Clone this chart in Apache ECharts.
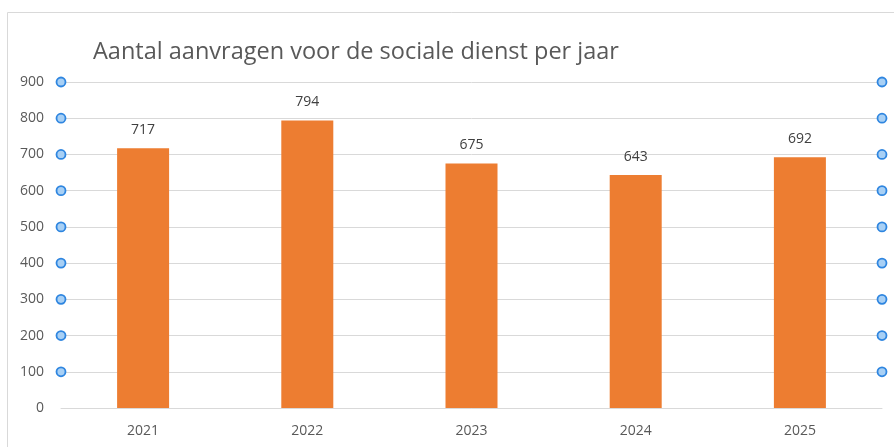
<!DOCTYPE html>
<html>
<head>
<meta charset="utf-8">
<script src="https://cdn.jsdelivr.net/npm/echarts@6/dist/echarts.min.js"></script>
<style>
  html, body { margin: 0; padding: 0; background: #fff; }
  #graph { width: 894px; height: 447px; }
</style>
</head>
<body>
<div id="graph"></div>
<script>
  // categorieën en waarden
  var years = ["2021", "2022", "2023", "2024", "2025"];
  var aanvragen = [717, 794, 675, 643, 692];
  // rasterlijnen met selectie-bolletjes
  var handleTicks = [100, 200, 300, 400, 500, 600, 700, 800, 900];

  var handles = [];
  handleTicks.forEach(function (v) {
    handles.push([0, v]);
    handles.push([1, v]);
  });

  var myChart = echarts.init(document.getElementById('graph'));
  var option = {
    animation: false,
    title: {
      text: "Aantal aanvragen voor de sociale dienst per jaar",
      left: 88,
      top: 35,
      textStyle: {
        fontFamily: "Open Sans",
        fontSize: 23.5,
        fontWeight: "normal",
        color: "#595959"
      }
    },
    graphic: [
      {
        type: "rect",
        shape: { x: 7.5, y: 12.5, width: 1000, height: 1000 },
        style: { fill: "none", stroke: "#d9d9d9", lineWidth: 1 },
        silent: true
      }
    ],
    grid: { left: 61, right: 12, top: 82, bottom: 39 },
    xAxis: [
      {
        type: "category",
        data: years,
        axisTick: { show: false },
        axisLine: { lineStyle: { color: "#d9d9d9", width: 1 } },
        axisLabel: { color: "#595959", fontSize: 14, margin: 16, fontFamily: "Open Sans" }
      },
      { type: "value", min: 0, max: 1, show: false }
    ],
    yAxis: {
      type: "value",
      min: 0,
      max: 900,
      interval: 100,
      axisLine: { show: false },
      axisTick: { show: false },
      splitLine: { lineStyle: { color: "#d9d9d9", width: 1 } },
      axisLabel: { color: "#595959", fontSize: 14, margin: 17, fontFamily: "Open Sans" }
    },
    series: [
      {
        name: "Aanvragen",
        type: "bar",
        data: aanvragen,
        barWidth: 52,
        itemStyle: { color: "#ed7d31" },
        label: {
          show: true,
          position: "top",
          distance: 11,
          color: "#404040",
          fontSize: 14,
          fontFamily: "Open Sans"
        }
      },
      {
        type: "scatter",
        xAxisIndex: 1,
        data: handles,
        symbol: "circle",
        symbolSize: 9,
        clip: false,
        silent: true,
        itemStyle: { color: "#a8d0f5", borderColor: "#2f86e0", borderWidth: 1.8, opacity: 1 }
      }
    ]
  };
  myChart.setOption(option);
</script>
</body>
</html>
